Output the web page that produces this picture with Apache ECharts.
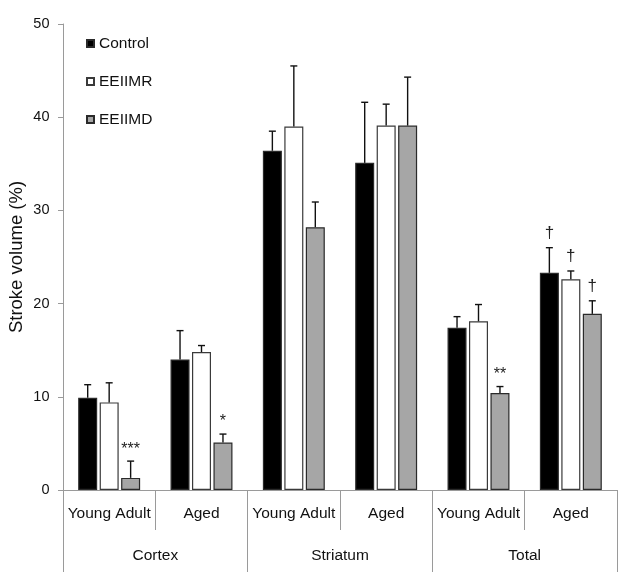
<!DOCTYPE html>
<html>
<head>
<meta charset="utf-8">
<script src="https://cdn.jsdelivr.net/npm/echarts@6/dist/echarts.min.js"></script>
<style>
html,body{margin:0;padding:0;background:#fff;}
#c{width:627px;height:585px;}
</style>
</head>
<body>
<div id="c"></div>
<script>
// ---- data ----
const categories = ['Young Adult', 'Aged', 'Young Adult', 'Aged', 'Young Adult', 'Aged'];
const groups = ['Cortex', 'Striatum', 'Total'];
const seriesNames = ['Control', 'EEIIMR', 'EEIIMD'];
const control = [9.9, 14.0, 36.4, 35.1, 17.4, 23.3];
const controlErr = [1.4, 3.1, 2.1, 6.5, 1.2, 2.7];
const eeiimr = [9.4, 14.8, 39.0, 39.1, 18.1, 22.6];
const eeiimrErr = [2.1, 0.7, 6.5, 2.3, 1.8, 0.9];
const eeiimd = [1.3, 5.1, 28.2, 39.1, 10.4, 18.9];
const eeiimdErr = [1.8, 0.9, 2.7, 5.2, 0.7, 1.4];
const yTicks = [0, 10, 20, 30, 40, 50];
// annotations: [seriesIndex, categoryIndex, text]
const annoSeries = [2, 2, 2, 0, 1, 2];
const annoCats = [0, 1, 4, 5, 5, 5];
const annoTexts = ['***', '*', '**', '\u2020', '\u2020', '\u2020'];

// ---- styling ----
const FONT = '"Liberation Sans", Arial, sans-serif';
const BAR_W = 19;
const GAP_PCT = 13;
const STEP = BAR_W * (1 + GAP_PCT / 100);
const fills = ['#000000', '#ffffff', '#a6a6a6'];
const borders = ['#2a2a2a', '#3a3a3a', '#2a2a2a'];
const values = [control, eeiimr, eeiimd];
const errs = [controlErr, eeiimrErr, eeiimdErr];
const AXIS_GRAY = '#9a9a9a';

const chart = echarts.init(document.getElementById('c'), null, {renderer: 'canvas'});

const barSeries = seriesNames.map((name, s) => ({
  name: name,
  type: 'bar',
  data: values[s],
  barWidth: BAR_W,
  barGap: GAP_PCT + '%',
  itemStyle: {color: fills[s], borderColor: borders[s], borderWidth: 1.2},
  emphasis: {disabled: true},
  animation: false,
  z: 2
}));

const errSeries = seriesNames.map((name, s) => ({
  type: 'custom',
  xAxisIndex: 0,
  yAxisIndex: 0,
  data: values[s].map((v, i) => [i, v, errs[s][i]]),
  renderItem: function (params, api) {
    const i = api.value(0), v = api.value(1), e = api.value(2);
    const base = api.coord([i, v]);
    const top = api.coord([i, v + e]);
    const x = base[0] + (s - 1) * STEP;
    const style = {stroke: '#111', lineWidth: 1.4};
    return {
      type: 'group',
      children: [
        {type: 'line', shape: {x1: x, y1: base[1], x2: x, y2: top[1]}, style: style},
        {type: 'line', shape: {x1: x - 3.5, y1: top[1], x2: x + 3.5, y2: top[1]}, style: style}
      ]
    };
  },
  silent: true,
  animation: false,
  z: 5
}));

const annoSeriesDef = {
  type: 'custom',
  xAxisIndex: 0,
  yAxisIndex: 0,
  data: annoSeries.map((s, k) => [annoCats[k], values[s][annoCats[k]] + errs[s][annoCats[k]], s]),
  renderItem: function (params, api) {
    const i = api.value(0), y = api.value(1), s = api.value(2);
    const p = api.coord([i, y]);
    const txt = annoTexts[params.dataIndex];
    const isDagger = txt === '\u2020';
    return {
      type: 'text',
      style: {
        text: txt,
        x: p[0] + (s - 1) * STEP,
        y: p[1] - (isDagger ? 6 : 4),
        align: 'center',
        verticalAlign: 'bottom',
        font: (isDagger ? '17px ' : '16px ') + FONT,
        fill: '#222'
      }
    };
  },
  silent: true,
  animation: false,
  z: 6
};

const option = {
  backgroundColor: '#ffffff',
  animation: false,
  textStyle: {fontFamily: FONT},
  grid: {left: 63, right: 10, top: 24, bottom: 95, containLabel: false, outerBoundsMode: 'none'},
  legend: {
    data: seriesNames,
    orient: 'vertical',
    left: 86,
    top: 35.5,
    padding: 0,
    icon: 'rect',
    itemWidth: 7,
    itemHeight: 7,
    itemGap: 22,
    selectedMode: false,
    textStyle: {fontFamily: FONT, fontSize: 15.5, color: '#111', lineHeight: 15}
  },
  xAxis: [
    {
      type: 'category',
      data: categories,
      position: 'bottom',
      axisLine: {show: true, lineStyle: {color: AXIS_GRAY, width: 1}},
      axisTick: {show: true, length: 40, interval: 0, lineStyle: {color: AXIS_GRAY, width: 1}},
      axisLabel: {interval: 0, margin: 16, fontFamily: FONT, fontSize: 15.5, lineHeight: 16, color: '#111'},
      splitLine: {show: false}
    },
    {
      type: 'category',
      data: groups,
      position: 'bottom',
      gridIndex: 0,
      axisLine: {show: false},
      axisTick: {show: true, length: 82, interval: 0, lineStyle: {color: AXIS_GRAY, width: 1}},
      axisLabel: {interval: 0, margin: 58, fontFamily: FONT, fontSize: 15.5, lineHeight: 16, color: '#111'},
      splitLine: {show: false}
    }
  ],
  yAxis: {
    type: 'value',
    min: yTicks[0],
    max: yTicks[yTicks.length - 1],
    interval: 10,
    name: 'Stroke volume (%)',
    nameLocation: 'middle',
    nameRotate: 90,
    nameGap: 37,
    nameMoveOverlap: false,
    nameTextStyle: {fontFamily: FONT, fontSize: 18.5, color: '#111'},
    axisLine: {show: true, lineStyle: {color: AXIS_GRAY, width: 1}},
    axisTick: {show: true, inside: false, length: 5, lineStyle: {color: AXIS_GRAY}},
    axisLabel: {margin: 13.5, fontFamily: FONT, fontSize: 14.5, color: '#111'},
    splitLine: {show: false}
  },
  series: barSeries.concat(errSeries).concat([annoSeriesDef])
};

chart.setOption(option);
</script>
</body>
</html>
